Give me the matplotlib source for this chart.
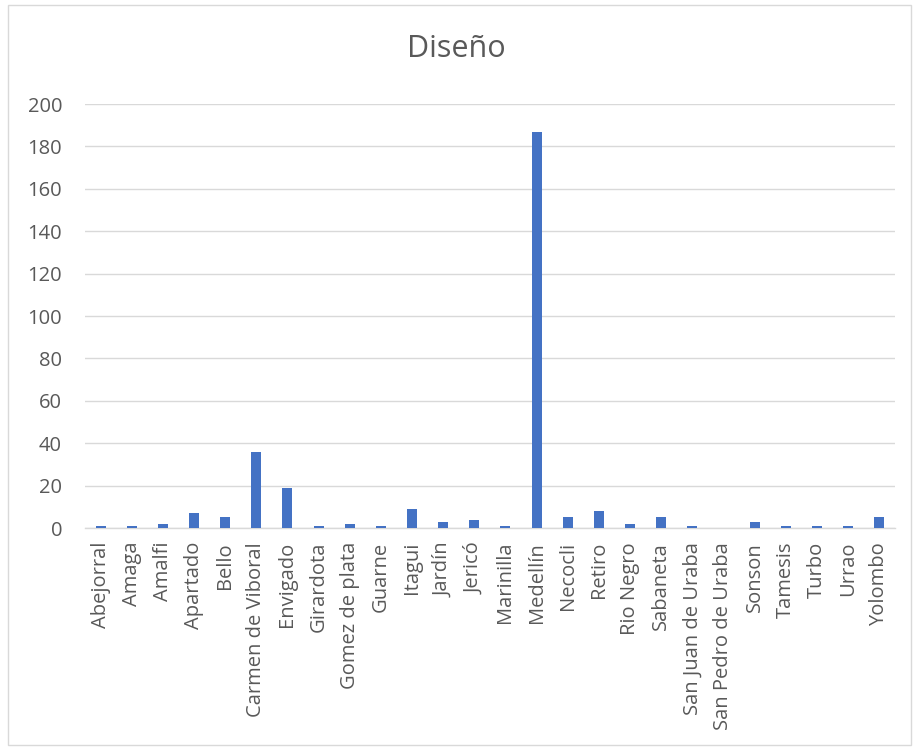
import matplotlib.pyplot as plt
from matplotlib.patches import Rectangle

municipios = ["Abejorral", "Amaga", "Amalfi", "Apartado", "Bello", "Carmen de Viboral",
              "Envigado", "Girardota", "Gomez de plata", "Guarne", "Itagui", "Jardín",
              "Jericó", "Marinilla", "Medellín", "Necocli", "Retiro", "Rio Negro",
              "Sabaneta", "San Juan de Uraba", "San Pedro de Uraba", "Sonson", "Tamesis",
              "Turbo", "Urrao", "Yolombo"]
conteo = [1, 1, 2, 7, 5, 36, 19, 1, 2, 1, 9, 3, 4, 1, 187, 5, 8, 2, 5, 1, 0, 3, 1, 1, 1, 5]
y_ticks = list(range(0, 201, 20))

plt.rcParams["font.family"] = ["Open Sans", "DejaVu Sans"]
txt = "#595959"

fig = plt.figure(figsize=(9.13, 7.51), dpi=100)
ax = fig.add_axes([0.0931, 0.2969, 0.8869, 0.5646])

x = range(len(municipios))
ax.bar(x, conteo, width=0.32, color="#4472C4", zorder=3)

ax.set_xlim(-0.5, len(municipios) - 0.5)
ax.set_ylim(0, 200)
ax.set_yticks(y_ticks)
ax.set_xticks(list(x))
ax.set_xticklabels(municipios, rotation=90, fontsize=14.5, color=txt)
ax.tick_params(axis="y", labelsize=14.5, labelcolor=txt, length=0, pad=16.5)
ax.tick_params(axis="x", length=0, pad=10)
ax.grid(axis="y", color="#D9D9D9", linewidth=1, zorder=0)
for s in ["top", "right", "left"]:
    ax.spines[s].set_visible(False)
ax.spines["bottom"].set_color("#D9D9D9")
ax.spines["bottom"].set_linewidth(1)

fig.text(0.5, 0.924, "Diseño", ha="center", va="baseline", fontsize=22, color=txt)

# chart border
fig.patches.append(Rectangle((0.009, 0.008), 0.989, 0.985, transform=fig.transFigure,
                             fill=False, edgecolor="#D9D9D9", linewidth=1))

fig.savefig("out.png", dpi=100)
